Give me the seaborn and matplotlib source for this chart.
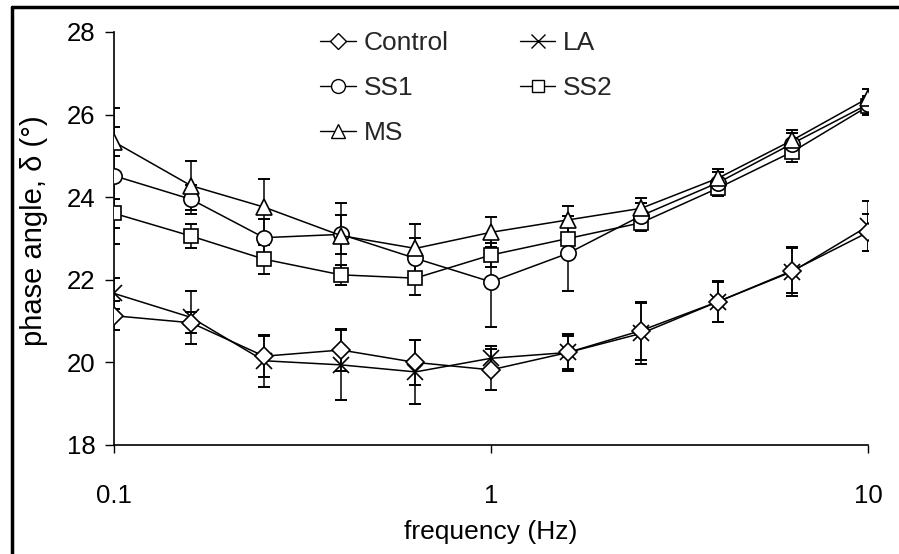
import matplotlib
matplotlib.use("Agg")
import matplotlib.pyplot as plt
from matplotlib.lines import Line2D
import seaborn as sns
import numpy as np

freq = [0.1, 0.16, 0.25, 0.4, 0.63, 1.0, 1.6, 2.5, 4.0, 6.3, 10.0]

control = [21.13, 20.96, 20.15, 20.30, 20.00, 19.82, 20.24, 20.77, 21.47, 22.22, 23.15]
la      = [21.67, 21.09, 20.04, 19.94, 19.77, 20.10, 20.24, 20.70, 21.47, 22.20, 23.30]
ss1     = [24.52, 23.95, 23.02, 23.10, 22.52, 21.95, 22.64, 23.55, 24.35, 25.30, 26.25]
ss2     = [23.61, 23.06, 22.50, 22.12, 22.04, 22.60, 23.00, 23.38, 24.22, 25.10, 26.20]
ms      = [25.34, 24.28, 23.76, 23.07, 22.76, 23.15, 23.45, 23.73, 24.46, 25.38, 26.40]

control_err = [0.35, 0.25, 0.50, 0.50, 0.55, 0.50, 0.40, 0.70, 0.50, 0.55, 0.45]
la_err      = [0.37, 0.65, 0.63, 0.85, 0.77, 0.30, 0.45, 0.75, 0.48, 0.60, 0.60]
ss1_err     = [1.65, 0.35, 0.45, 0.48, 0.50, 1.10, 0.90, 0.30, 0.25, 0.25, 0.20]
ss2_err     = [0.35, 0.30, 0.35, 0.25, 0.40, 0.30, 0.30, 0.20, 0.20, 0.25, 0.20]
ms_err      = [0.35, 0.60, 0.68, 0.80, 0.60, 0.36, 0.34, 0.24, 0.22, 0.25, 0.23]

series_names = ["Control", "SS1", "MS", "LA", "SS2"]
y_ticks = [18, 20, 22, 24, 26, 28]
x_ticks = [0.1, 1, 10]
x_ticklabels = ["0.1", "1", "10"]

sns.set_theme(style="ticks")
plt.rcParams['font.family'] = ['Liberation Sans', 'DejaVu Sans']

fig = plt.figure(figsize=(8.99, 5.54), dpi=100)
ax = fig.add_axes([114/899, 1-445/554, (868-114)/899, (445-32)/554])

data = {"Control": (control, control_err, "D", 9),
        "SS1": (ss1, ss1_err, "o", 11),
        "MS": (ms, ms_err, "^", 11),
        "LA": (la, la_err, "x", 11),
        "SS2": (ss2, ss2_err, "s", 10)}

draw_order = ["SS2", "SS1", "MS", "LA", "Control"]
for name in draw_order:
    vals, err, mk, ms_ = data[name]
    ax.errorbar(freq, vals, yerr=err, fmt="none", ecolor="black",
                elinewidth=1.1, capsize=4, capthick=1.4, zorder=2)
for name in draw_order:
    vals, err, mk, ms_ = data[name]
    sns.lineplot(x=freq, y=vals, ax=ax, color="black", linewidth=1.1,
                 marker=mk, markersize=ms_, markerfacecolor="white" if mk != "x" else "black",
                 markeredgecolor="black", markeredgewidth=1.2, zorder=3)

ax.set_xscale("log")
ax.set_xlim(0.1, 10)
ax.set_ylim(18, 28)
ax.set_yticks(y_ticks)
ax.set_xticks(x_ticks)
ax.set_xticklabels(x_ticklabels)
ax.minorticks_off()
ax.tick_params(axis="y", direction="out", length=6.5, width=1.0, pad=7, labelsize=18.5, colors="black")
ax.tick_params(axis="x", direction="out", length=6, width=1.0, pad=22, labelsize=18.5, colors="black")
sns.despine(ax=ax)
for s in ["left", "bottom"]:
    ax.spines[s].set_color("black")
    ax.spines[s].set_linewidth(1.2)

ax.set_xlabel("frequency (Hz)", fontsize=19, color="black")
ax.set_ylabel("phase angle, δ (°)", fontsize=21, color="black")
ax.xaxis.set_label_coords(0.5, -0.182)
ax.yaxis.set_label_coords(-0.0875, 0.518)

handles = []
for name in series_names:
    vals, err, mk, ms_ = data[name]
    handles.append(Line2D([], [], color="black", linewidth=1.0, marker=mk, markersize=ms_ - 1,
                          markerfacecolor="white" if mk != "x" else "black",
                          markeredgecolor="black", markeredgewidth=1.0))
leg = ax.legend(handles, series_names, ncol=2, frameon=False, fontsize=19,
                loc="upper left", bbox_to_anchor=(320/899, 1-31/554), bbox_transform=fig.transFigure,
                borderaxespad=0, borderpad=0, handlelength=1.35, handletextpad=0.3,
                columnspacing=2.7, labelspacing=0.8)

# figure frame (top and left edges)
fig.add_artist(Line2D([12/899, 1.0], [1-7/554, 1-7/554], color="black", linewidth=2.5, transform=fig.transFigure))
fig.add_artist(Line2D([12/899, 12/899], [0, 1-7/554], color="black", linewidth=2.5, transform=fig.transFigure))

fig.savefig("out.png", dpi=100)
